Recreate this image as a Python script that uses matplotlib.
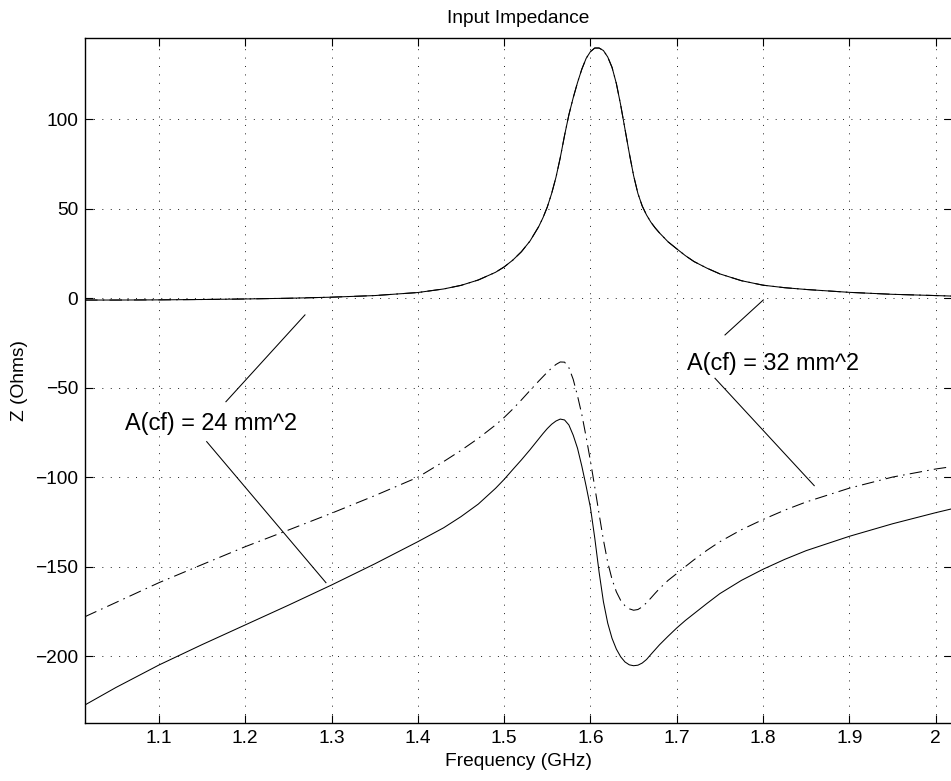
import matplotlib
matplotlib.use("Agg")
import matplotlib.pyplot as plt

plt.rcParams["font.family"] = ["Liberation Sans", "DejaVu Sans"]

# frequency samples (GHz)
freq = [1.0143, 1.05, 1.1, 1.15, 1.2, 1.25, 1.3, 1.35, 1.4, 1.43, 1.45, 1.47,
        1.49, 1.5, 1.51, 1.52, 1.53, 1.54, 1.545, 1.55, 1.555, 1.56, 1.565,
        1.57, 1.575, 1.58, 1.585, 1.59, 1.595, 1.6, 1.605, 1.61, 1.615, 1.62,
        1.625, 1.63, 1.635, 1.64, 1.645, 1.65, 1.655, 1.66, 1.665, 1.67,
        1.675, 1.68, 1.69, 1.7, 1.71, 1.72, 1.735, 1.75, 1.775, 1.8, 1.825,
        1.85, 1.9, 1.95, 2.0, 2.02]

# real part (both areas nearly identical)
z_re = [-1.0, -1.0, -0.9, -0.7, -0.4, 0.0, 0.6, 1.5, 3.2, 5.2, 7.2, 10.2,
        14.5, 17.5, 21.3, 26.0, 32.0, 40.0, 45.0, 51.0, 58.5, 67.5, 78.5,
        91.0, 102.5, 112.0, 120.5, 128.0, 134.0, 137.8, 139.8, 139.8, 138.4,
        134.8, 129.0, 120.0, 108.0, 94.5, 81.0, 68.5, 58.5, 51.5, 46.5, 42.5,
        39.3, 36.5, 31.5, 27.6, 23.8, 20.5, 16.8, 13.6, 9.8, 7.3, 5.9, 4.9,
        3.3, 2.2, 1.5, 1.2]

# imaginary part, A(cf) = 24 mm^2
z_im_24 = [-227.2, -217.5, -204.9, -193.5, -182.5, -171.5, -160.2, -148.4,
           -136.0, -128.2, -122.0, -115.0, -106.2, -101.2, -95.7, -90.3,
           -84.6, -78.6, -75.6, -72.8, -70.4, -68.6, -67.5, -68.0, -70.8,
           -76.5, -83.8, -93.8, -105.0, -117.0, -134.0, -153.0, -169.5,
           -181.5, -190.0, -196.0, -200.3, -203.2, -204.8, -205.3, -205.0,
           -203.8, -201.8, -199.0, -196.3, -193.6, -188.8, -184.2, -180.0,
           -176.2, -170.5, -165.0, -157.6, -151.4, -145.9, -141.0, -133.0,
           -126.0, -119.8, -117.5]

# imaginary part, A(cf) = 32 mm^2
z_im_32 = [-177.9, -170.0, -158.9, -148.8, -138.8, -129.5, -120.1, -110.3,
           -100.0, -91.2, -85.0, -78.3, -70.8, -66.6, -61.9, -56.8, -51.5,
           -46.3, -43.8, -41.3, -39.0, -37.0, -35.6, -35.7, -38.8, -45.3,
           -54.5, -65.0, -77.5, -91.0, -105.5, -120.5, -135.0, -147.5,
           -157.0, -164.0, -168.8, -171.8, -173.5, -174.3, -173.9, -172.4,
           -170.1, -167.5, -164.8, -162.2, -157.6, -153.8, -149.9, -146.1,
           -140.8, -136.0, -129.3, -123.6, -118.4, -113.8, -106.1, -99.9,
           -95.4, -94.0]

xticks = [1.1, 1.2, 1.3, 1.4, 1.5, 1.6, 1.7, 1.8, 1.9, 2.0]
xticklabels = ["1.1", "1.2", "1.3", "1.4", "1.5", "1.6", "1.7", "1.8", "1.9", "2"]
yticks = [-200, -150, -100, -50, 0, 50, 100]
yticklabels = ["\u2212200", "\u2212150", "\u2212100", "\u221250", "0", "50", "100"]

# annotation text and leader lines (data coords)
labels = ["A(cf) = 24 mm^2", "A(cf) = 32 mm^2"]
label_pos = [(1.0606, -69.8), (1.7115, -36.3)]
leaders = [((1.2692, 1.1776), (-9.3, -57.8)),
           ((1.1553, 1.2935), (-80.1, -158.9)),
           ((1.7559, 1.8003), (-20.5, -0.95)),
           ((1.7443, 1.8593), (-44.7, -104.7))]

fig = plt.figure(figsize=(9.51, 7.81), dpi=100)
W, H = 951, 781
ax = fig.add_axes([85 / W, 58 / H, 867 / W, 685 / H])

dashdot = (0, (12, 5, 1.5, 5))
ax.plot(freq, z_re, color="black", lw=0.75)
ax.plot(freq, z_re, color="black", lw=0.75, linestyle=dashdot)
ax.plot(freq, z_im_24, color="black", lw=0.75)
ax.plot(freq, z_im_32, color="black", lw=0.75, linestyle=dashdot)

for xs, ys in leaders:
    ax.plot(xs, ys, color="black", lw=0.75)
for txt, (tx, ty) in zip(labels, label_pos):
    ax.text(tx, ty, txt, fontsize=16.9, ha="left", va="center")

ax.set_xlim(1.0143, 1.0143 + 867 / 863)
ax.set_ylim(-237.3, 145.4)
ax.set_xticks(xticks)
ax.set_xticklabels(xticklabels)
ax.set_yticks(yticks)
ax.set_yticklabels(yticklabels)
ax.tick_params(direction="in", length=5.8, width=0.8, labelsize=13.8,
               top=True, right=True, pad=5)
ax.grid(True, color="black", lw=0.6, linestyle=(0, (1.2, 8.9)))
for s in ax.spines.values():
    s.set_linewidth(1.0)

ax.set_title("Input Impedance", fontsize=13.8, pad=10.8)
ax.set_xlabel("Frequency (GHz)", fontsize=13.8, labelpad=4)
ax.set_ylabel("Z (Ohms)", fontsize=13.8, labelpad=5)

fig.savefig("out.png", dpi=100)
